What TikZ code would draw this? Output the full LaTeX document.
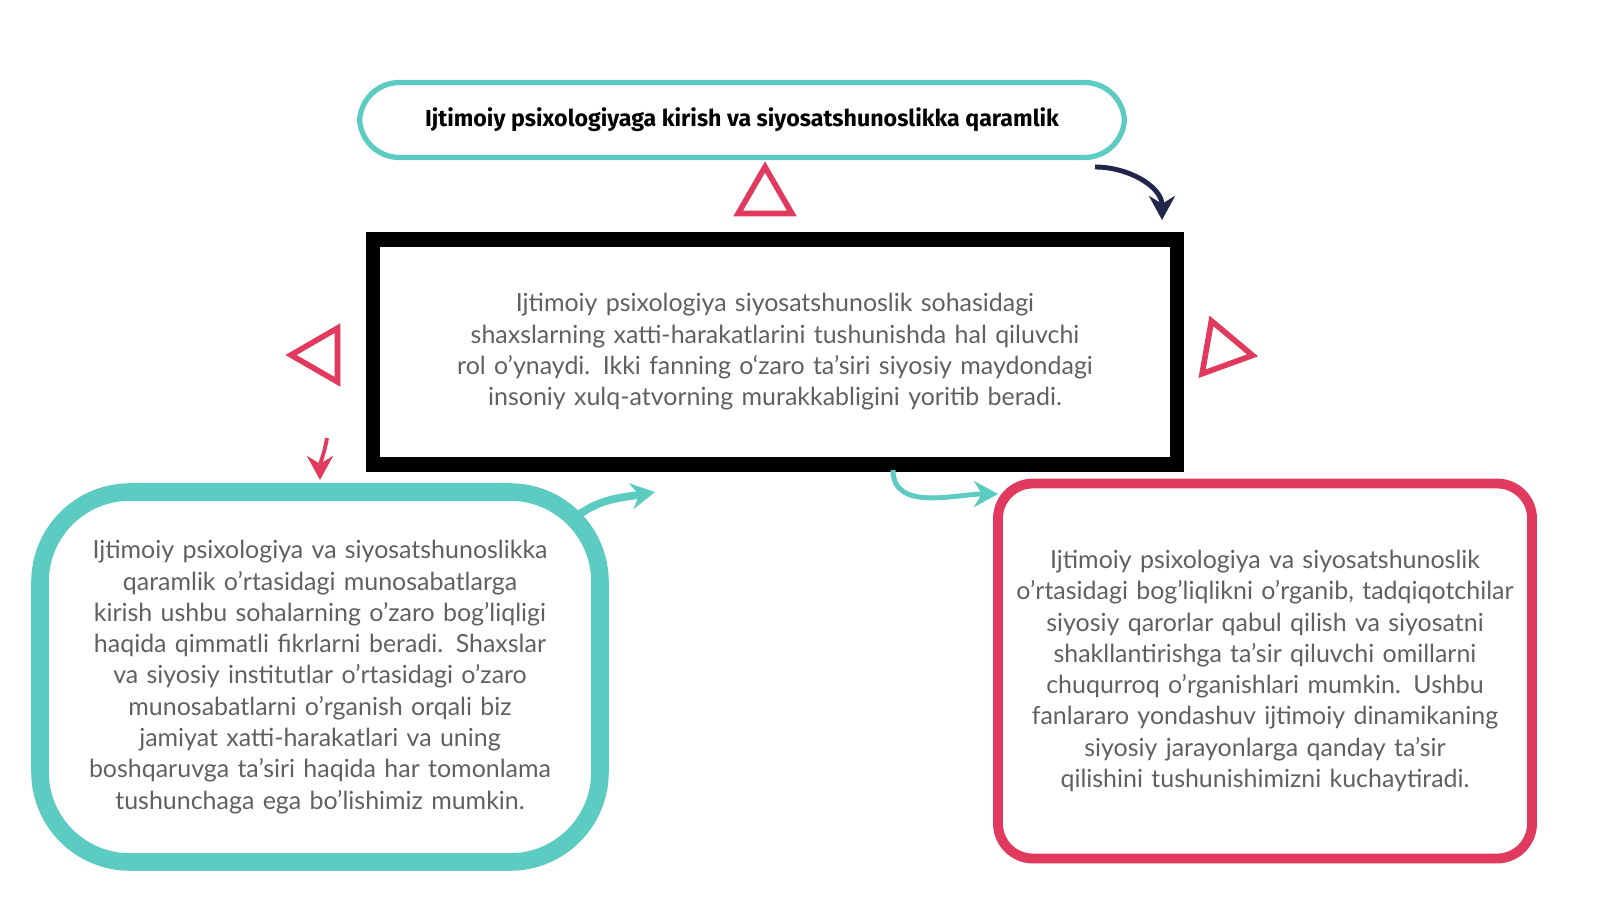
\documentclass[tikz,border=0pt]{standalone}
\usepackage{fontspec}
\setmainfont{Lato}
\newfontfamily\titlefont{Fira Sans}
\usetikzlibrary{shapes.geometric,arrows.meta,positioning}
\hyphenpenalty=10000
\definecolor{teal}{HTML}{5CCBC2}
\definecolor{rosered}{HTML}{E23A5E}
\definecolor{navy}{HTML}{22264A}
\definecolor{txtgray}{HTML}{606060}
\tikzset{
  textbox/.style={align=center, text=txtgray, font=\fontsize{7.1}{8.9}\selectfont, inner sep=2pt},
  tri/.style={regular polygon, regular polygon sides=3, draw=rosered, line width=1.6pt, minimum size=0.62cm, inner sep=0pt},
  curvy/.style={line width=1.4pt, -{Stealth[length=2.4mm,width=2.6mm]}}
}
\begin{document}
\begin{tikzpicture}
\useasboundingbox (0,0) rectangle (16,9);

% title
\node (title) [draw=teal, line width=1.5pt, rounded corners=0.4cm, minimum width=7.65cm, minimum height=0.75cm,
  font=\titlefont\bfseries\fontsize{6.6}{8}\selectfont] at (7.42,7.8)
  {Ijtimoiy psixologiyaga kirish va siyosatshunoslikka qaramlik};

% middle box
\node (main) [draw=black, line width=4pt, minimum width=8.0cm, minimum height=2.25cm, textbox, text width=7.9cm] at (7.75,5.48)
  {Ijtimoiy psixologiya siyosatshunoslik sohasidagi shaxslarning xatti-harakatlarini tushunishda hal qiluvchi rol o'ynaydi. Ikki fanning o‘zaro ta'siri siyosiy maydondagi insoniy xulq-atvorning murakkabligini yoritib beradi.};

% left box
\node (left) [draw=teal, line width=5pt, rounded corners=0.9cm, minimum width=5.6cm, minimum height=3.7cm, textbox, text width=5.2cm] at (3.2,2.23)
  {Ijtimoiy psixologiya va siyosatshunoslikka qaramlik o'rtasidagi munosabatlarga kirish ushbu sohalarning o'zaro bog'liqligi haqida qimmatli fikrlarni beradi. Shaxslar va siyosiy institutlar o'rtasidagi o'zaro munosabatlarni o'rganish orqali biz jamiyat xatti-harakatlari va uning boshqaruvga ta'siri haqida har tomonlama tushunchaga ega bo'lishimiz mumkin.};

% right box
\node (right) [draw=rosered, line width=2.8pt, rounded corners=0.35cm, minimum width=5.3cm, minimum height=3.75cm, textbox, text width=5.2cm] at (12.65,2.29)
  {Ijtimoiy psixologiya va siyosatshunoslik o'rtasidagi bog'liqlikni o'rganib, tadqiqotchilar siyosiy qarorlar qabul qilish va siyosatni shakllantirishga ta'sir qiluvchi omillarni chuqurroq o'rganishlari mumkin. Ushbu fanlararo yondashuv ijtimoiy dinamikaning siyosiy jarayonlarga qanday ta'sir qilishini tushunishimizni kuchaytiradi.};

% triangles
\node (triup) [tri] at (7.65,7.02) {};
\node (trileft) [tri, shape border rotate=90] at (3.22,5.45) {};
\node (triright) [tri, shape border rotate=-100] at (12.22,5.5) {};

% arrows
\coordinate (a1) at (10.95,7.33);
\coordinate (a2) at (11.62,6.8);
\draw [curvy, navy] (a1) to[out=0, in=90] (a2);
\coordinate (b1) at (3.27,4.62);
\coordinate (b2) at (3.2,4.2);
\draw [curvy, rosered, line width=1.1pt] (b1) to[out=-100, in=90] (b2);
\coordinate (c1) at (5.72,3.8);
\coordinate (c2) at (6.55,4.08);
\draw [curvy, teal, line width=2.2pt] (c1) to[out=40, in=190] (c2);
\coordinate (d1) at (8.93,4.3);
\coordinate (d2) at (9.98,4.06);
\draw [curvy, teal] (d1) to[out=-90, in=180] (d2);
\end{tikzpicture}
\end{document}
